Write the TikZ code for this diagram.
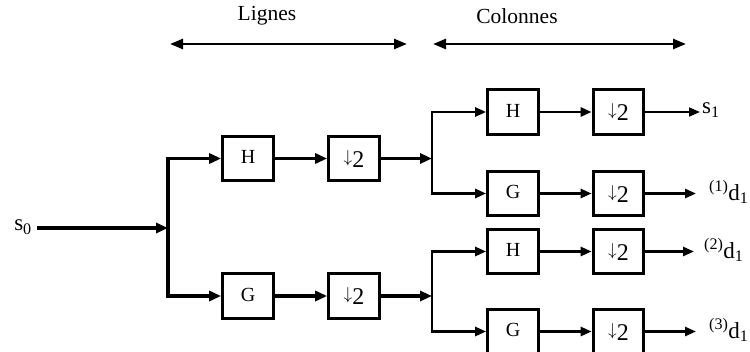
\documentclass[tikz,border=0pt]{standalone}
\usepackage{fontspec}
\setmainfont{Liberation Serif}
\usetikzlibrary{arrows.meta}
\tikzset{
  blk/.style={draw, line width=3.2pt, minimum width=50.5pt, minimum height=44.5pt, inner sep=0pt,
    font=\fontsize{20}{20}\selectfont},
  thick1/.style={line width=3.3pt},
  thick2/.style={line width=2.6pt},
  thin2/.style={line width=1.8pt},
  tipA/.style={-{Triangle[length=12pt,width=10pt]}},
  tipB/.style={-{Triangle[length=11pt,width=9pt]}},
  dbl/.style={line width=2.6pt, {Triangle[length=13pt,width=10pt]}-{Triangle[length=13pt,width=10pt]}},
  lab/.style={inner sep=0pt, anchor=west, font=\fontsize{23}{23}\selectfont},
  ttl/.style={inner sep=0pt, font=\fontsize{21.5}{21.5}\selectfont},
}
\newcommand{\dsamp}{\raisebox{3pt}{\fontsize{19}{19}\selectfont$\downarrow$}\raisebox{-2pt}{\fontsize{24}{24}\selectfont 2}}
\newcommand{\hlab}{\raisebox{3pt}{H}}
\newcommand{\glab}{\raisebox{3pt}{G}}
\begin{document}
\begin{tikzpicture}[x=1pt,y=-1pt]
\useasboundingbox (0,0) rectangle (750,351);
\clip (0,0) rectangle (750,351);
\fill[white] (0,0) rectangle (750,351);

% titles
\node[ttl] (lignes) at (267,16) {Lignes};
\node[ttl] (colonnes) at (517,16) {Colonnes};
\coordinate (la) at (170,44);
\coordinate (lb) at (407,44);
\coordinate (ca) at (433,44);
\coordinate (cb) at (686,44);
\draw[dbl] (la) -- (lb);
\draw[dbl] (ca) -- (cb);

% input
\node[inner sep=0pt, font=\fontsize{23}{23}\selectfont] (s0) at (23,227) {s\textsubscript{0}};
\coordinate (s0e) at (37,228);
\coordinate (sp1) at (168,228);
\coordinate (sp1t) at (168,158.5);
\coordinate (sp1b) at (168,296);
\draw[thick1, tipA] (s0e) -- (sp1);
\draw[thick1, line cap=rect] (sp1t) -- (sp1b);

% level 1
\node[blk] (H1) at (248,158.5) {\hlab};
\node[blk] (D1) at (354,158.5) {\dsamp};
\node[blk] (G1) at (248,296) {\glab};
\node[blk] (D2) at (354,296) {\dsamp};
\draw[thick1, tipA] (sp1t) -- (H1.west);
\draw[thick1, tipA] (sp1b) -- (G1.west);
\draw[thick1, tipA] (H1) -- (D1);
\draw[thick1, tipA] (G1) -- (D2);

% splits
\coordinate (spA) at (432,158.5);
\coordinate (spAt) at (432,112);
\coordinate (spAb) at (432,193.5);
\coordinate (spB) at (432,296);
\coordinate (spBt) at (432,251.5);
\coordinate (spBb) at (432,331.5);
\draw[thick1, tipA] (D1) -- (spA);
\draw[thick1, tipA] (D2) -- (spB);
\draw[thick2, line cap=rect] (spAt) -- (spAb);
\draw[thick2, line cap=rect] (spBt) -- (spBb);

% level 2
\node[blk] (H2) at (513,112) {\hlab};
\node[blk] (D3) at (618.5,112) {\dsamp};
\node[blk] (G2) at (513,193.5) {\glab};
\node[blk] (D4) at (618.5,193.5) {\dsamp};
\node[blk] (H3) at (513,251.5) {\hlab};
\node[blk] (D5) at (618.5,251.5) {\dsamp};
\node[blk] (G3) at (513,331.5) {\glab};
\node[blk] (D6) at (618.5,331.5) {\dsamp};

\draw[thick2, tipB] (spAt) -- (H2.west);
\draw[thick2, tipB] (spAb) -- (G2.west);
\draw[thick2, tipB] (spBt) -- (H3.west);
\draw[thick2, tipB] (spBb) -- (G3.west);
\draw[thick2, tipB] (H2) -- (D3);
\draw[thick2, tipB] (G2) -- (D4);
\draw[thick2, tipB] (H3) -- (D5);
\draw[thick2, tipB] (G3) -- (D6);

% outputs
\coordinate (o1) at (700,112);
\coordinate (o2) at (696,193.5);
\coordinate (o3) at (694,251.5);
\coordinate (o4) at (696,331.5);
\draw[thin2, tipB] (D3) -- (o1);
\draw[thick2, tipB] (D4) -- (o2);
\draw[thick2, tipB] (D5) -- (o3);
\draw[thick2, tipB] (D6) -- (o4);
\node[lab] (s1) at (702,110) {s\textsubscript{1}};
\node[lab] (d11) at (709,192) {\textsuperscript{(1)}d\textsubscript{1}};
\node[lab] (d12) at (704,250) {\textsuperscript{(2)}d\textsubscript{1}};
\node[lab] (d13) at (709,330) {\textsuperscript{(3)}d\textsubscript{1}};
\end{tikzpicture}
\end{document}
